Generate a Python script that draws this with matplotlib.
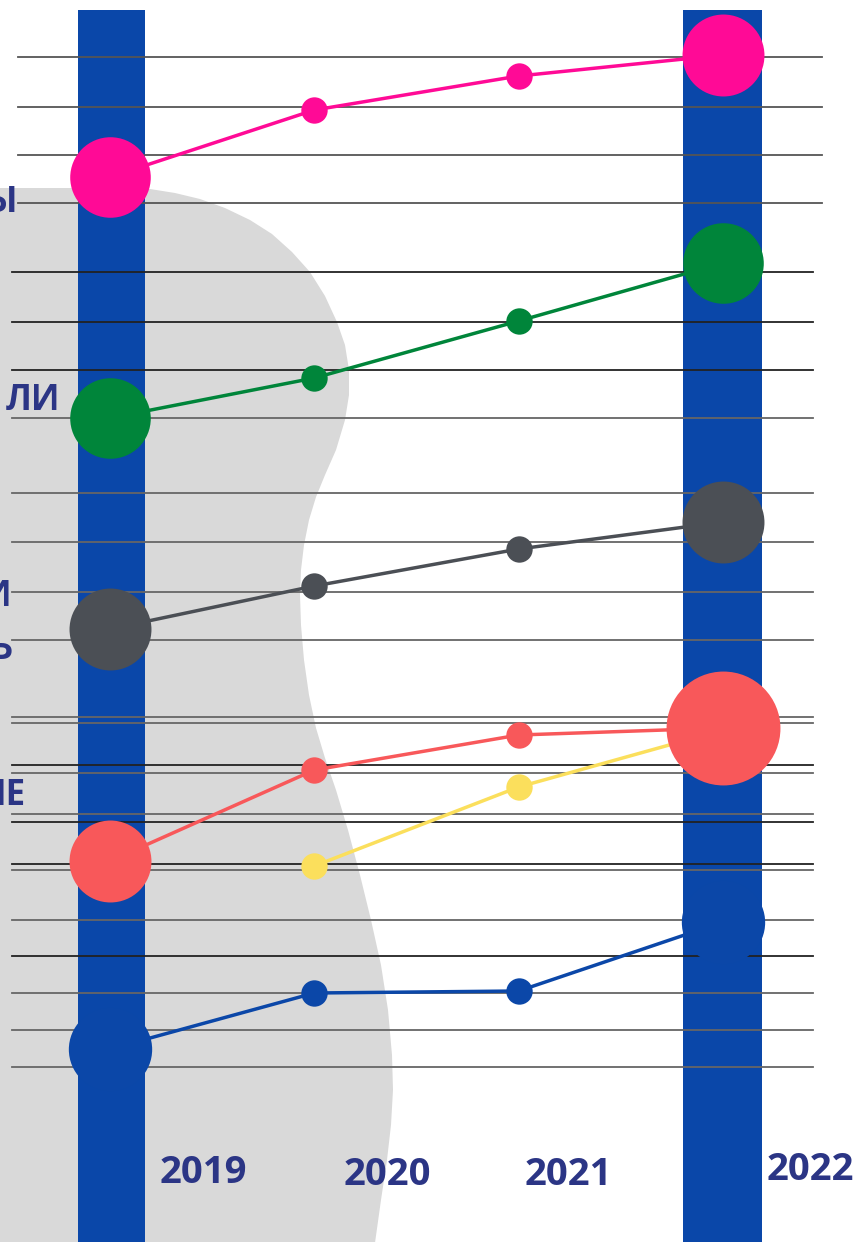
import numpy as np
import matplotlib.pyplot as plt
from matplotlib.patches import Polygon

# data (arbitrary index scale)
years = [2019, 2020, 2021, 2022]
pink = [92.3, 99.0, 102.4, 104.5]
green = [68.2, 72.2, 77.9, 83.7]
grey = [47.1, 51.4, 55.1, 57.8]
coral = [23.9, 33.0, 36.5, 37.2]
yellow = [np.nan, 23.4, 31.3, 37.0]
blue = [5.1, 10.7, 10.9, 17.8]

year_labels = ["2019", "2020", "2021", "2022"]
side_labels = ["Ы", "ЛИ", "И", "Ь", "НЕ"]

grid_long = [104.3, 99.3, 94.5, 89.7]
grid_short = [82.8, 77.8, 73.0, 68.2, 60.7, 55.8, 50.8, 46.0, 38.3, 37.7,
              33.5, 32.7, 28.6, 27.8, 23.6, 23.0, 18.0, 14.4, 10.7, 7.0, 3.3]
grid_dark = [82.8, 77.8, 73.0, 33.5, 27.8, 23.6, 14.4]

BAR = '#0a47a9'
NAVY = '#2b3585'

fig = plt.figure(figsize=(8.59, 12.42), dpi=100)
ax = fig.add_axes([0, 0, 1, 1])
ax.set_xlim(2018.4617, 2022.6656)
ax.set_ylim(-14.2, 110)
ax.axis('off')

W, H = 859.0, 1242.0

# grey background blob (pixel outline)
blob = [(-5, 188), (120, 188), (150, 189), (175, 193), (200, 199), (225, 208),
        (250, 220), (272, 234), (292, 252), (310, 272), (325, 296), (337, 322),
        (345, 345), (349, 370), (349, 395), (345, 420), (336, 450), (325, 475),
        (316, 497), (309, 520), (304, 545), (301, 570), (300, 595), (301, 625),
        (304, 660), (309, 695), (316, 728), (325, 758), (336, 790), (348, 830),
        (360, 875), (371, 920), (381, 965), (388, 1010), (392, 1055),
        (393, 1090), (391, 1125), (387, 1160), (381, 1200), (374, 1250),
        (-5, 1250)]
blob = [(x / W, 1 - y / H) for x, y in blob]
ax.add_patch(Polygon(blob, closed=True, facecolor='#d9d9d9', edgecolor='none',
                     transform=ax.transAxes, zorder=0))

# vertical bars
ax.bar([2019.007, 2021.998], 123.5, bottom=-14.5, width=[0.328, 0.387],
       color=BAR, zorder=1)

# horizontal rules
for y in grid_long:
    ax.axhline(y, xmin=18 / W, xmax=822 / W, color='#555555', lw=1.3, zorder=2)
for y in grid_short:
    c = '#222222' if y in grid_dark else '#666666'
    ax.axhline(y, xmin=12 / W, xmax=813 / W, color=c, lw=1.3, zorder=2)

# series: values, colour, end marker sizes (first, last)
series = [
    (blue, '#0b47a8', 60, 60),
    (yellow, '#fbdf5c', None, None),
    (coral, '#f8585a', 59, 82),
    (grey, '#4b4f55', 59, 59),
    (green, '#00853a', 58, 58),
    (pink, '#ff0a96', 58, 59),
]
small = 19
for i, (vals, col, s0, s1) in enumerate(series):
    z = 3 + i
    ax.plot(years, vals, color=col, lw=2.5, zorder=z, solid_capstyle='round')
    for j, (x, v) in enumerate(zip(years, vals)):
        if np.isnan(v):
            continue
        if j == 0:
            ms = s0 if s0 else small
        elif j == len(years) - 1:
            if s1 is None:
                continue
            ms = s1
        else:
            ms = small
        ax.plot([x], [v], 'o', ms=ms, color=col, mec='none', zorder=z + 0.5)

# clipped category labels on the left edge (cut off as in the source)
side_pos = [(17, 203), (60, 401), (11, 597), (13, 650), (26, 796)]
for t, (x, y) in zip(side_labels, side_pos):
    ax.text(x / W, 1 - y / H, t, transform=ax.transAxes, ha='right', va='center',
            fontsize=25, fontweight='bold', color=NAVY,
            family=['Open Sans', 'DejaVu Sans'])

# year labels
year_pos = [(203, 1173), (387, 1175), (568, 1175), (810, 1170)]
for t, (x, y) in zip(year_labels, year_pos):
    ax.text(x / W, 1 - y / H, t, transform=ax.transAxes, ha='center', va='center',
            fontsize=27.5, fontweight='bold', color=NAVY,
            family=['Open Sans', 'DejaVu Sans'])

fig.savefig('out.png', dpi=100, facecolor='white')
